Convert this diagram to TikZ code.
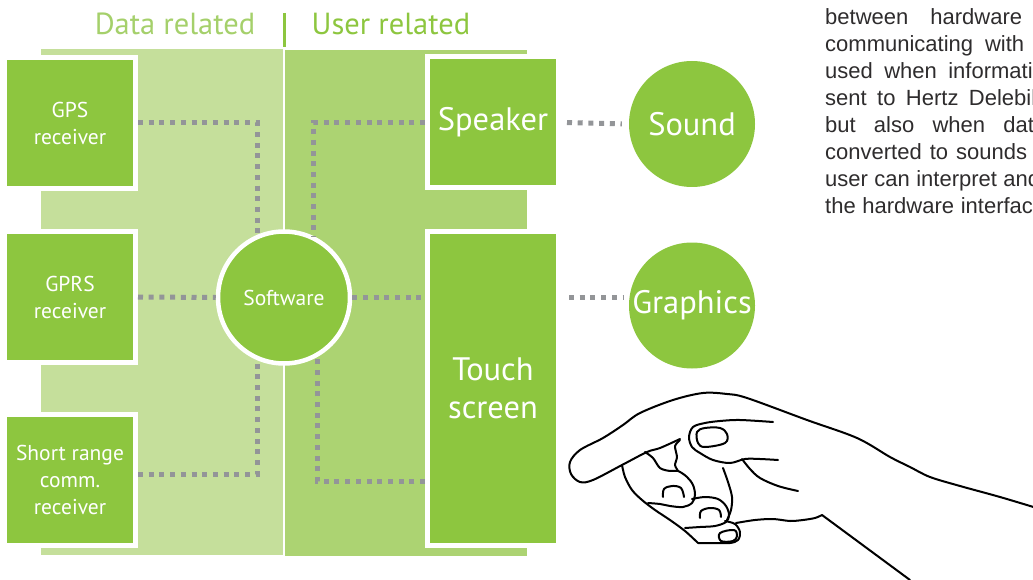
\documentclass[tikz,border=0pt]{standalone}
\usepackage{fontspec}
\setmainfont{PT Sans}
\newfontfamily\paperfont{Liberation Sans}
\usepackage{xcolor}
\usetikzlibrary{calc}

\definecolor{leaf}{HTML}{8DC63F}
\definecolor{paledata}{HTML}{C5DF9B}
\definecolor{paleuser}{HTML}{ACD372}
\definecolor{headdata}{HTML}{A5D06B}
\definecolor{dots}{HTML}{939598}
\definecolor{ink}{HTML}{2E2C2D}

\tikzset{
  unit/.style={rectangle, fill=leaf, draw=white, line width=5pt, inner sep=0pt,
    minimum width=131pt, minimum height=131pt, text=white, align=center,
    font={\fontsize{21.5}{27}\selectfont}},
  bigunit/.style={unit, font={\fontsize{32.5}{38}\selectfont}},
  hub/.style={circle, fill=leaf, draw=white, line width=4.5pt, inner sep=0pt,
    minimum size=132pt, text=white, font={\fontsize{21.5}{27}\selectfont}},
  outlet/.style={circle, fill=leaf, inner sep=0pt, minimum size=126pt,
    text=white, font={\fontsize{32.5}{38}\selectfont}},
  head/.style={anchor=base, font={\fontsize{30.5}{36}\selectfont}},
  link/.style={draw=dots, line width=5pt, dash pattern=on 5pt off 5.7pt},
  note/.style={anchor=base west, inner sep=0pt, text=ink,
    font={\paperfont\fontsize{22}{27}\selectfont}},
  hand/.style={black, line width=2pt, line cap=round, line join=round}
}

\begin{document}
\begin{tikzpicture}[x=1pt, y=-1pt]
\useasboundingbox (0,0) rectangle (1033,580);

% headings
\node[head, text=headdata] (datahead) at (175,35) {Data related};
\node[head, text=leaf] (userhead) at (391,35) {User related};
\draw[leaf, line width=3pt] (284,13) -- (284,47);

% the two halves
\fill[paledata] (41,49) rectangle (283,555);
\fill[paleuser] (285,50) rectangle (527,556);

% units
\node[unit] (gps) at (70,123) {GPS\\receiver};
\node[unit] (gprs) at (70,297) {GPRS\\receiver};
\node[unit] (shortrange) at (70,480) {Short range\\comm.\\receiver};
\node[bigunit] (speaker) at (493,122.5) {Speaker};
\node[bigunit, minimum height=314pt] (touch) at (493,388.5) {Touch\\screen};
\node[hub] (software) at (284,297.5) {Software};
\node[outlet] (sound) at (692,124) {Sound};
\node[outlet] (graphics) at (692,305.5) {Graphics};

% links
\draw[link] (gps.east) -| (software.113);
\draw[link] (gprs.east) -- (software.west);
\draw[link] ([yshift=6pt]shortrange.east) -| (software.247);
\draw[link] (speaker.west) -| (software.64);
\draw[link] (software.east) -- (software.east -| touch.west);
\draw[link] ([yshift=-92.5pt]touch.west) -| (software.299);
\draw[link, shorten <=6pt, shorten >=7pt] (speaker.east) -- (sound.west);
\draw[link, shorten <=8pt, shorten >=6pt] (software.east -| touch.east) -- (software.east -| graphics.west);

% running text
\foreach \row/\linew/\words in {1/197/{between hardware}, 2/199/{communicating with},
    3/232/{used when information}, 4/211/{sent to Hertz Delebil},
    5/221/{but also when data}, 6/202/{converted to sounds},
    7/215/{user can interpret and}, 8/220/{the hardware interface}} {
  \node[note] (line\row) at (825,{25+27*(\row-1)}) {\makebox[\linew pt][s]{\words}};
}

% hand
\draw[hand] plot[smooth, tension=0.55] coordinates {(1040,509) (1000,497) (960,486)
  (930,477) (910,467) (890,457) (857,438) (807,420) (747,398) (727,394) (703,393)
  (673,400) (640,413) (623,425) (603,438) (580,450) (570,462) (571,474) (580,482)
  (593,480) (622,465) (647,452) (660,448) (680,439)};
\draw[hand] plot[smooth, tension=0.4] coordinates {(680,440) (675,446) (677,457) (675,465) (678,471)};
\draw[hand] plot[smooth, tension=0.55] coordinates {(645,452) (653,458) (660,468)
  (670,471) (678,471) (687,477) (693,485) (695,495) (692,503) (683,507) (670,506)
  (660,504) (648,503)};
\draw[hand] plot[smooth, tension=0.6] coordinates {(663,497) (664,489) (672,486) (681,488) (684,497)};
\draw[hand] plot[smooth, tension=0.55] coordinates {(692,499) (705,497) (718,499)
  (726,506) (729,515) (726,522) (715,526) (700,527) (685,528)};
\draw[hand] plot[smooth, tension=0.6] coordinates {(700,518) (701,511) (710,508) (719,510) (721,517)};
\draw[hand] plot[smooth, tension=0.55] coordinates {(725,521) (735,524) (740,532)
  (738,540) (730,543) (715,543) (698,543)};
\draw[hand] plot[smooth cycle, tension=0.6] coordinates {(720,533) (734,530) (737,536) (733,541) (721,541)};
\draw[hand] plot[smooth, tension=0.55] coordinates {(622,465) (625,477) (632,490)
  (642,500) (655,510) (670,520) (685,531) (698,543)};
\draw[hand] plot[smooth, tension=0.55] coordinates {(723,468) (728,482) (732,497) (731,510) (727,520)};
\draw[hand] plot[smooth, tension=0.5] coordinates {(736,523) (755,520) (773,519)
  (790,521) (803,520) (815,518) (822,515)} -- (910,580);
\draw[hand] plot[smooth, tension=0.55] coordinates {(773,422) (740,420) (720,421)
  (705,423) (693,427) (689,437) (692,447) (700,453) (713,460) (730,463) (745,459)
  (760,459) (778,460)};
\draw[hand] plot[smooth, tension=0.55] coordinates {(742,459) (750,469) (760,478) (778,486) (798,491)};
\draw[hand] plot[smooth cycle, tension=0.6] coordinates {(697,432) (705,428) (720,428)
  (727,434) (725,443) (705,447) (698,443)};
\end{tikzpicture}
\end{document}
